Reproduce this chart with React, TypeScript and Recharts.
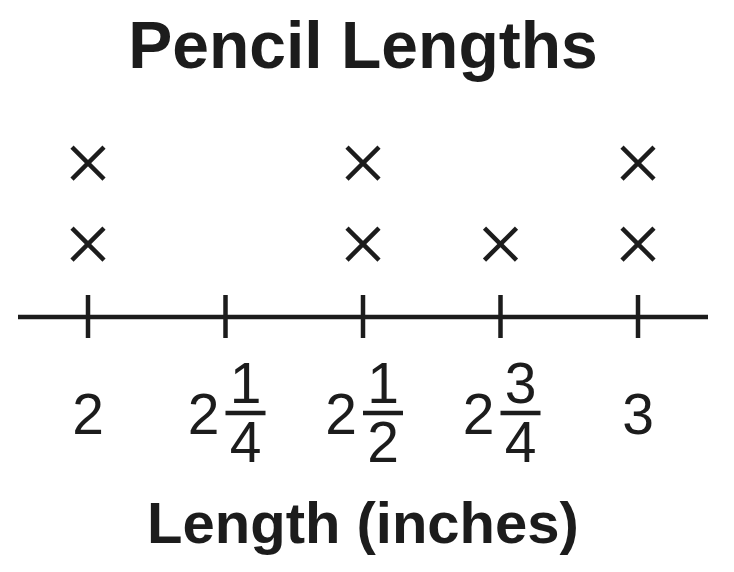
import React from 'react';
import { ScatterChart, Scatter, XAxis, YAxis, Label } from 'recharts';

// one entry per pencil, in inches
const pencilLengths = [2, 2, 2.5, 2.5, 2.75, 3, 3];

const tickValues = [2, 2.25, 2.5, 2.75, 3];
const tickWhole = ['2', '2', '2', '2', '3'];
const tickNumerator = ['', '1', '1', '3', ''];
const tickDenominator = ['', '4', '2', '4', ''];

const ink = '#1c1c1c';
const font = '"Liberation Sans", Arial, Helvetica, sans-serif';

// stack the X's: each repeat of a length goes one row higher
const seen: Record<string, number> = {};
const plotData = pencilLengths.map((len) => {
  const key = String(len);
  seen[key] = (seen[key] || 0) + 1;
  return { length: len, count: seen[key] };
});

const CrossMark = (props: any) => {
  const { cx, cy } = props;
  const r = 16;
  return (
    <g stroke={ink} strokeWidth={4.5}>
      <line x1={cx - r} y1={cy - r} x2={cx + r} y2={cy + r} />
      <line x1={cx - r} y1={cy + r} x2={cx + r} y2={cy - r} />
    </g>
  );
};

const LengthTick = (props: any) => {
  const { x, y, payload } = props;
  const i = tickValues.indexOf(payload.value);
  const num = tickNumerator[i];
  const den = tickDenominator[i];
  const textProps = { fontFamily: font, fontSize: 57, fill: ink, textAnchor: 'middle' as const };
  return (
    <g>
      <line x1={x} x2={x} y1={y - 22} y2={y + 21} stroke={ink} strokeWidth={4.5} />
      {num ? (
        <>
          <text {...textProps} x={x - 22} y={y + 117}>{tickWhole[i]}</text>
          <text {...textProps} x={x + 20} y={y + 86}>{num}</text>
          <line x1={x} x2={x + 40} y1={y + 96} y2={y + 96} stroke={ink} strokeWidth={4.5} />
          <text {...textProps} x={x + 20} y={y + 145}>{den}</text>
        </>
      ) : (
        <text {...textProps} x={x} y={y + 117}>{tickWhole[i]}</text>
      )}
    </g>
  );
};

export default function App() {
  return (
    <div style={{ position: 'absolute', left: 0, top: 0, background: '#fff' }}>
      <ScatterChart width={734} height={572} margin={{ top: 82, right: 26, left: 18, bottom: 0 }}>
        <text x={363} y={68} textAnchor="middle" fontFamily={font} fontSize={66} fontWeight="bold" fill={ink}>
          Pencil Lengths
        </text>
        <XAxis
          type="number"
          dataKey="length"
          domain={[2, 3]}
          ticks={tickValues}
          interval={0}
          padding={{ left: 70, right: 70 }}
          axisLine={{ stroke: ink, strokeWidth: 4.5 }}
          tickLine={false}
          tickSize={0}
          tickMargin={0}
          height={255}
          tick={<LengthTick />}
        >
          <Label
            value="Length (inches)"
            position="insideBottom"
            offset={29}
            style={{ fontFamily: font, fontSize: 58, fontWeight: 'bold', fill: ink }}
          />
        </XAxis>
        <YAxis type="number" dataKey="count" domain={[0.1, 3]} hide />
        <Scatter data={plotData} shape={<CrossMark />} isAnimationActive={false} />
      </ScatterChart>
    </div>
  );
}
